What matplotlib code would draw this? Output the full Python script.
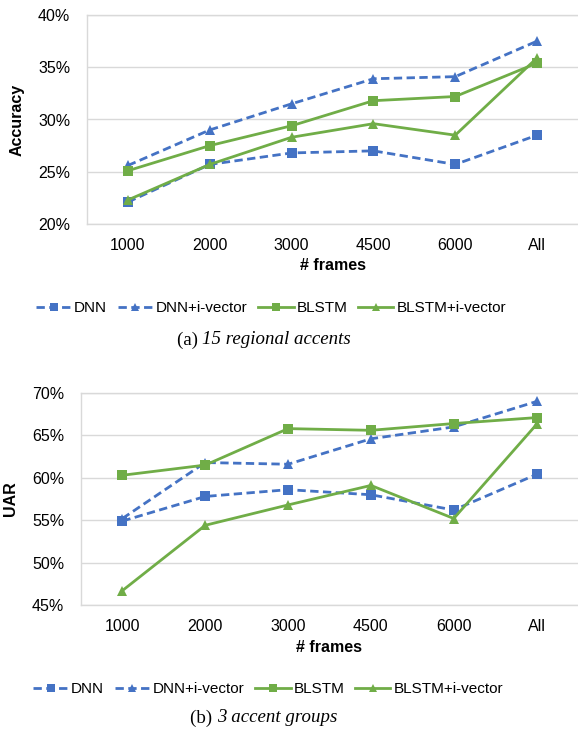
import matplotlib
matplotlib.use("Agg")
import matplotlib.pyplot as plt
from matplotlib.ticker import FuncFormatter

categories = ["1000", "2000", "3000", "4500", "6000", "All"]
series_names = ["DNN", "DNN+i-vector", "BLSTM", "BLSTM+i-vector"]

acc_dnn = [22.1, 25.7, 26.8, 27.0, 25.7, 28.5]
acc_dnn_iv = [25.6, 29.0, 31.5, 33.9, 34.1, 37.5]
acc_blstm = [25.1, 27.5, 29.4, 31.8, 32.2, 35.4]
acc_blstm_iv = [22.3, 25.7, 28.3, 29.6, 28.5, 35.9]

uar_dnn = [54.9, 57.8, 58.6, 58.0, 56.2, 60.4]
uar_dnn_iv = [55.2, 61.8, 61.6, 64.6, 66.0, 69.0]
uar_blstm = [60.3, 61.5, 65.8, 65.6, 66.4, 67.1]
uar_blstm_iv = [46.7, 54.4, 56.8, 59.1, 55.2, 66.3]

blue = "#4472C4"
green = "#70AD47"
grid = "#D9D9D9"

plt.rcParams['font.family'] = ['Liberation Sans', 'DejaVu Sans']

fig = plt.figure(figsize=(5.78, 7.31), dpi=100)
W, H = 578, 731

def axes_px(l, t, r, b):
    return fig.add_axes([l / W, 1 - b / H, (r - l) / W, (b - t) / H])

ax1 = axes_px(87, 15, 578, 224)
ax2 = axes_px(81, 393, 578, 605)

styles = [
    dict(color=blue, ls=(0, (3.0, 1.6)), marker="s"),
    dict(color=blue, ls=(0, (3.0, 1.6)), marker="^"),
    dict(color=green, ls="-", marker="s"),
    dict(color=green, ls="-", marker="^"),
]

captions = []

def draw(ax, data, ylim, ylabel, caption_num, caption_txt, xlab_y, leg_y, cap_y, leg_x):
    x = list(range(len(categories)))
    handles = []
    for vals, st, name in zip(data, styles, series_names):
        h, = ax.plot(x, vals, color=st["color"], linestyle=st["ls"], linewidth=2.0,
                     marker=st["marker"], markersize=7.5, markeredgewidth=0,
                     label=name, zorder=3)
        handles.append(h)
    ax.set_xlim(-0.5, len(categories) - 0.5)
    ax.set_ylim(*ylim)
    ax.set_yticks(range(ylim[0], ylim[1] + 1, 5))
    ax.yaxis.set_major_formatter(FuncFormatter(lambda v, p: f"{v:.0f}%"))
    ax.set_xticks(x)
    ax.set_xticklabels(categories)
    ax.tick_params(axis="both", length=0, labelsize=11.5, colors="#000000")
    ax.tick_params(axis="y", pad=12)
    ax.tick_params(axis="x", pad=10)
    ax.grid(axis="y", color=grid, linewidth=1.0, zorder=0)
    for s in ax.spines.values():
        s.set_color(grid)
        s.set_linewidth(1.0)
    ax.spines["right"].set_visible(False)
    ax.set_ylabel(ylabel, fontsize=11.5, fontweight="bold", labelpad=10)
    pos = ax.get_position()
    fig.text((pos.x0 + pos.x1) / 2, 1 - xlab_y / H,
             "# frames", ha="center", va="center", fontsize=11.5, fontweight="bold")
    fig.legend(handles=handles, loc="center", bbox_to_anchor=(leg_x / W, 1 - leg_y / H),
               ncol=4, frameon=False, fontsize=11, handlelength=2.3,
               handletextpad=0.2, columnspacing=0.7, borderaxespad=0,
               markerscale=0.85)
    t1 = fig.text(0, 1 - cap_y / H, caption_num + " ", ha="left", va="center",
                  fontsize=13.6, family=["Liberation Serif"])
    t2 = fig.text(0, 1 - cap_y / H, caption_txt, ha="left", va="center",
                  fontsize=13.6, family=["Liberation Serif"], style="italic")
    captions.append((t1, t2, 264))

draw(ax1, [acc_dnn, acc_dnn_iv, acc_blstm, acc_blstm_iv], (20, 40), "Accuracy",
     "(a)", "15 regional accents", 266, 308, 340, 271)
draw(ax2, [uar_dnn, uar_dnn_iv, uar_blstm, uar_blstm_iv], (45, 70), "UAR",
     "(b)", "3 accent groups", 648, 689, 718, 268)

fig.canvas.draw()
r = fig.canvas.get_renderer()
for t1, t2, cx in captions:
    w1 = t1.get_window_extent(r).width
    w2 = t2.get_window_extent(r).width
    x0 = cx - (w1 + w2) / 2
    t1.set_x(x0 / W)
    t2.set_x((x0 + w1) / W)

fig.savefig("out.png", dpi=100)
